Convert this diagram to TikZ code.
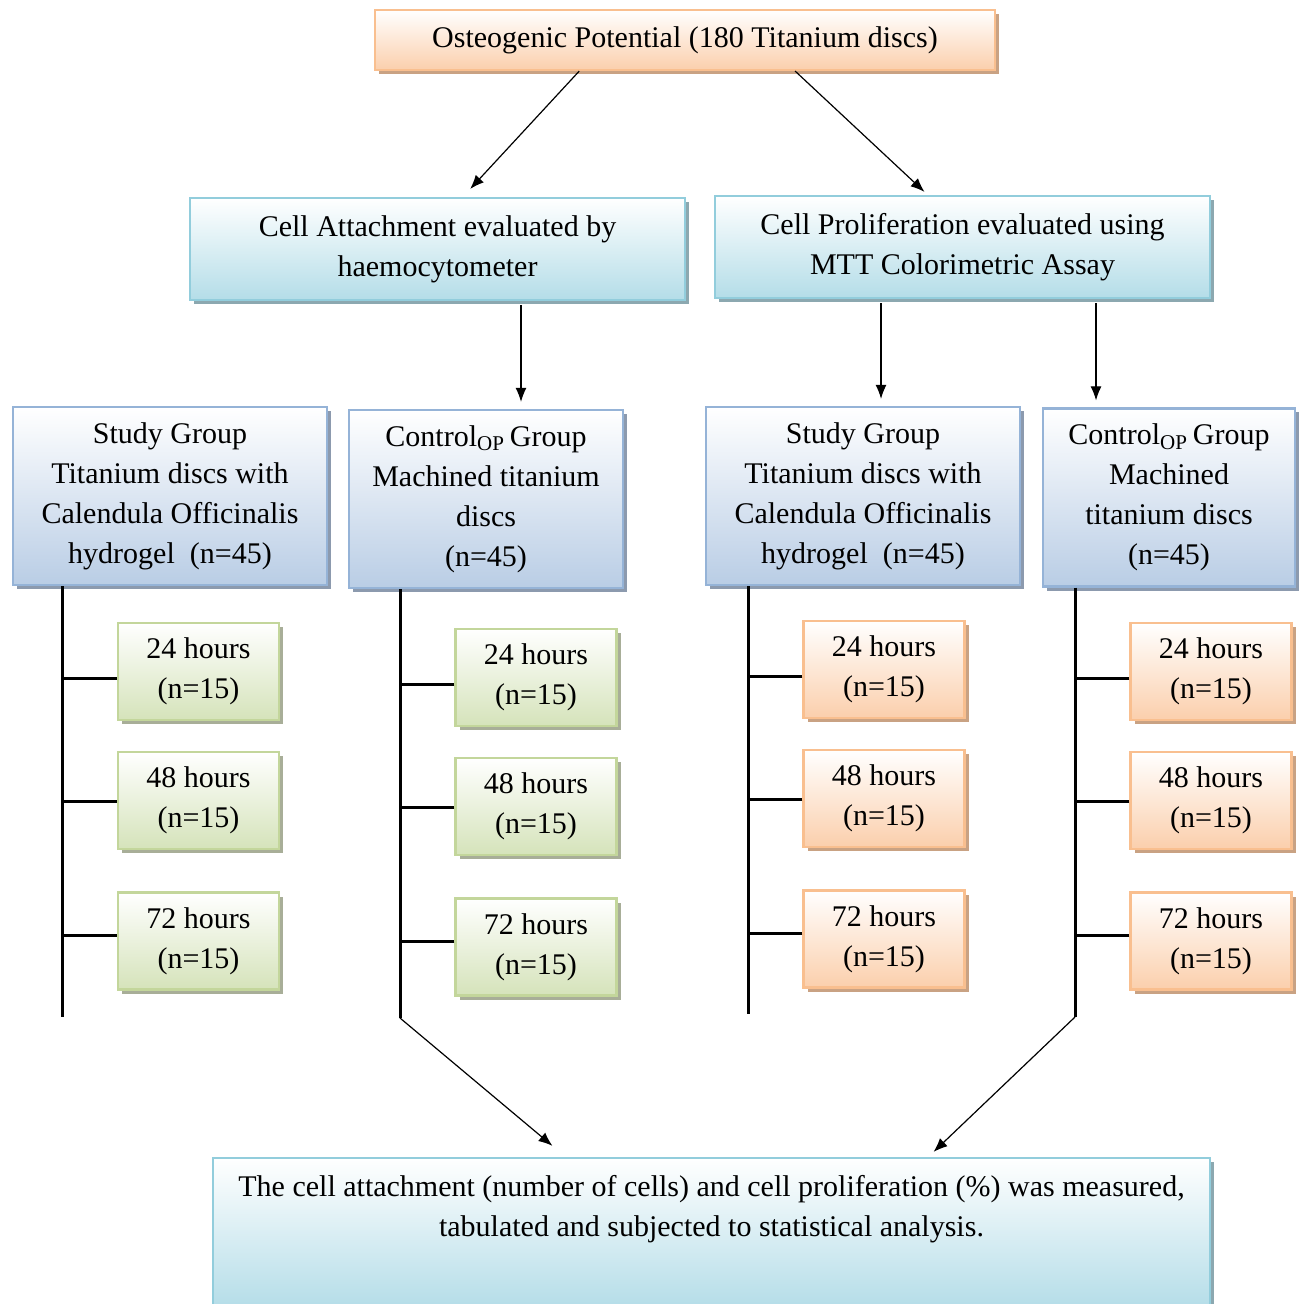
\documentclass[tikz,border=0pt]{standalone}
\usepackage{fontspec}
\setmainfont{Liberation Serif}
\usetikzlibrary{arrows.meta,calc,shadows}

\begin{document}
\begin{tikzpicture}[
  x=0.5pt,
  y=-0.5pt,
  >=Latex,
  font=\fontsize{15}{20}\selectfont,
  box/.style={draw,line width=1.1pt,align=center,inner sep=0pt,top color=white},
  peach/.style={box,draw=opborder,bottom color=opfill,
    drop shadow={shadow xshift=2pt,shadow yshift=-2pt,fill=opshade,opacity=1}},
  aqua/.style={box,draw=aqborder,bottom color=aqfill,
    drop shadow={shadow xshift=2pt,shadow yshift=-2pt,fill=aqshade,opacity=1}},
  steel/.style={box,draw=stborder,bottom color=stfill,
    drop shadow={shadow xshift=2pt,shadow yshift=-2pt,fill=stshade,opacity=1}},
  sage/.style={box,draw=sgborder,bottom color=sgfill,
    drop shadow={shadow xshift=2pt,shadow yshift=-2pt,fill=sgshade,opacity=1}},
  group/.style={minimum height=89pt},
  hours/.style={minimum width=80.5pt,minimum height=48.5pt},
  flow/.style={-{Latex[length=7pt,width=5.5pt]},line width=0.6pt},
  trunk/.style={line width=1.5pt}
]
  \definecolor{opborder}{HTML}{F9BF8F}
  \definecolor{opfill}{HTML}{FBCFAC}
  \definecolor{opshade}{HTML}{C9A283}
  \definecolor{aqborder}{HTML}{92CDDC}
  \definecolor{aqfill}{HTML}{B4DDE8}
  \definecolor{aqshade}{HTML}{8CA8B0}
  \definecolor{stborder}{HTML}{95B3D7}
  \definecolor{stfill}{HTML}{B9CDE5}
  \definecolor{stshade}{HTML}{8C9AAE}
  \definecolor{sgborder}{HTML}{C3D69B}
  \definecolor{sgfill}{HTML}{D5E3BA}
  \definecolor{sgshade}{HTML}{A8AE98}

  \useasboundingbox (0,0) rectangle (1299,1304);

  \node[peach,minimum width=310pt,minimum height=30pt] (osteo) at (685,40)
    {Osteogenic Potential (180 Titanium discs)};
  \node[aqua,minimum width=247.5pt,minimum height=51pt] (attach) at (437.5,249)
    {Cell Attachment evaluated by\\haemocytometer};
  \node[aqua,minimum width=247.5pt,minimum height=51pt] (prolif) at (962.5,247)
    {Cell Proliferation evaluated using\\MTT Colorimetric Assay};

  % group boxes
  \node[steel,group,minimum width=157pt] (studyA) at (170,496)
    {Study Group\\Titanium discs with\\Calendula Officinalis\\hydrogel~~(n=45)};
  \node[steel,group,minimum width=137pt] (controlA) at (486,499)
    {Control\textsubscript{OP}\,Group\\Machined titanium\\discs\\(n=45)};
  \node[steel,group,minimum width=157pt] (studyB) at (863,496)
    {Study Group\\Titanium discs with\\Calendula Officinalis\\hydrogel~~(n=45)};
  \node[steel,group,minimum width=126pt] (controlB) at (1169,497.5)
    {Control\textsubscript{OP}\,Group\\Machined\\titanium discs\\(n=45)};

  % time points
  \node[sage,hours] (hA1) at (198.5,671.5) {24 hours\\(n=15)};
  \node[sage,hours] (hA2) at (198.5,800.5) {48 hours\\(n=15)};
  \node[sage,hours] (hA3) at (198.5,941) {72 hours\\(n=15)};
  \node[sage,hours] (hB1) at (536,677.5) {24 hours\\(n=15)};
  \node[sage,hours] (hB2) at (536,806.5) {48 hours\\(n=15)};
  \node[sage,hours] (hB3) at (536,947) {72 hours\\(n=15)};
  \node[peach,hours] (hC1) at (884,669.5) {24 hours\\(n=15)};
  \node[peach,hours] (hC2) at (884,798.5) {48 hours\\(n=15)};
  \node[peach,hours] (hC3) at (884,939) {72 hours\\(n=15)};
  \node[peach,hours] (hD1) at (1211,671.5) {24 hours\\(n=15)};
  \node[peach,hours] (hD2) at (1211,800.5) {48 hours\\(n=15)};
  \node[peach,hours] (hD3) at (1211,941) {72 hours\\(n=15)};

  \node[aqua,minimum width=498.5pt,minimum height=75pt] (result) at (711.5,1233)
    {The cell attachment (number of cells) and cell proliferation (\%) was measured,\\
     tabulated and subjected to statistical analysis.\\[7pt]~};

  % trunks and branches
  \coordinate (tA) at (62,1017);
  \coordinate (tB) at (400,1018);
  \coordinate (tC) at (748,1014);
  \coordinate (tD) at (1075,1017);
  \draw[trunk] (studyA.south -| tA) -- (tA);
  \draw[trunk] (controlA.south -| tB) -- (tB);
  \draw[trunk] (studyB.south -| tC) -- (tC);
  \draw[trunk] (controlB.south -| tD) -- (tD);
  \draw[trunk] ([yshift=-3.5pt]hA1.west) -- ([yshift=-3.5pt]hA1.west -| tA);
  \draw[trunk] ([yshift=-0.5pt]hA2.west) -- ([yshift=-0.5pt]hA2.west -| tA);
  \draw[trunk] ([yshift=3pt]hA3.west) -- ([yshift=3pt]hA3.west -| tA);
  \draw[trunk] ([yshift=-3.5pt]hB1.west) -- ([yshift=-3.5pt]hB1.west -| tB);
  \draw[trunk] ([yshift=-0.5pt]hB2.west) -- ([yshift=-0.5pt]hB2.west -| tB);
  \draw[trunk] ([yshift=3pt]hB3.west) -- ([yshift=3pt]hB3.west -| tB);
  \draw[trunk] ([yshift=-3.5pt]hC1.west) -- ([yshift=-3.5pt]hC1.west -| tC);
  \draw[trunk] ([yshift=-0.5pt]hC2.west) -- ([yshift=-0.5pt]hC2.west -| tC);
  \draw[trunk] ([yshift=3pt]hC3.west) -- ([yshift=3pt]hC3.west -| tC);
  \draw[trunk] ([yshift=-3.5pt]hD1.west) -- ([yshift=-3.5pt]hD1.west -| tD);
  \draw[trunk] ([yshift=-0.5pt]hD2.west) -- ([yshift=-0.5pt]hD2.west -| tD);
  \draw[trunk] ([yshift=3pt]hD3.west) -- ([yshift=3pt]hD3.west -| tD);

  % arrows
  \draw[flow,shorten >=5.4pt] ($(osteo.south west)!0.33!(osteo.south east)$)
    -- ($(attach.north west)!0.551!(attach.north east)$);
  \draw[flow,shorten >=2.2pt] ($(osteo.south west)!0.677!(osteo.south east)$)
    -- ($(prolif.north west)!0.43!(prolif.north east)$);
  \coordinate (xA) at (521,0);
  \coordinate (xB) at (881,0);
  \coordinate (xC) at (1096,0);
  \draw[flow,shorten <=2pt,shorten >=3.5pt] (attach.south -| xA) -- (controlA.north -| xA);
  \draw[flow,shorten <=2pt,shorten >=3.5pt] (prolif.south -| xB) -- (studyB.north -| xB);
  \draw[flow,shorten <=2pt,shorten >=3.5pt] (prolif.south -| xC) -- (controlB.north -| xC);
  \draw[flow,shorten >=8.6pt] (tB) -- ($(result.north west)!0.354!(result.north east)$);
  \draw[flow,shorten >=3.6pt] (tD) -- ($(result.north west)!0.717!(result.north east)$);
\end{tikzpicture}
\end{document}
